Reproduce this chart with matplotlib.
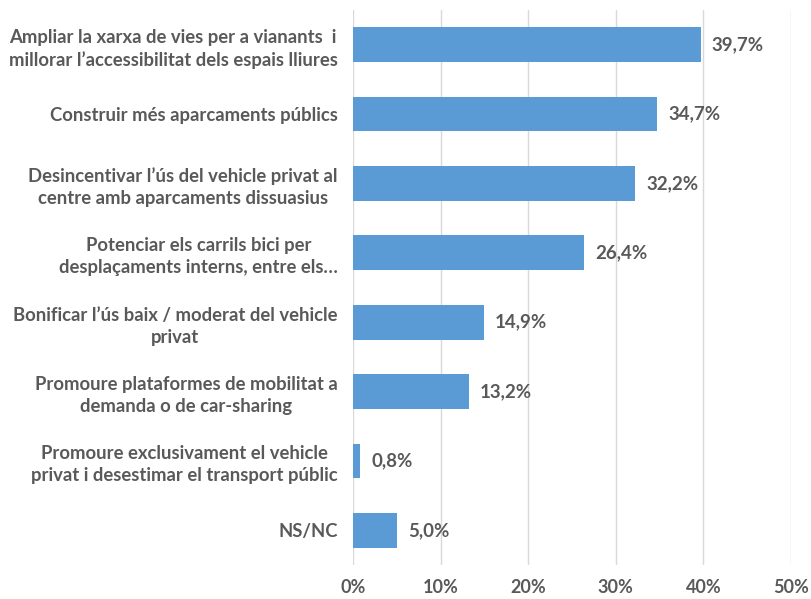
import matplotlib
matplotlib.use("Agg")
import matplotlib.pyplot as plt
from matplotlib.ticker import FuncFormatter

categories = [
    "Ampliar la xarxa de vies per a vianants  i\nmillorar l’accessibilitat dels espais lliures",
    "Construir més aparcaments públics",
    "Desincentivar l’ús del vehicle privat al\ncentre amb aparcaments dissuasius",
    "Potenciar els carrils bici per\ndesplaçaments interns, entre els…",
    "Bonificar l’ús baix / moderat del vehicle\nprivat",
    "Promoure plataformes de mobilitat a\ndemanda o de car-sharing",
    "Promoure exclusivament el vehicle\nprivat i desestimar el transport públic",
    "NS/NC",
]
values = [39.7, 34.7, 32.2, 26.4, 14.9, 13.2, 0.8, 5.0]
xticks = [0, 10, 20, 30, 40, 50]

plt.rcParams['font.family'] = ['Lato', 'DejaVu Sans']
text_color = '#595959'
bar_color = '#5B9BD5'

fig = plt.figure(figsize=(8.11, 5.99), dpi=100)
ax = fig.add_axes([353/811, 1 - 565/599, (791-353)/811, (565-10)/599])

y = list(range(len(categories)))
ax.barh(y, values, height=0.5, color=bar_color, zorder=3)
ax.set_ylim(len(categories) - 0.5, -0.5)
ax.set_xlim(0, 50)
ax.set_xticks(xticks)
ax.xaxis.set_major_formatter(FuncFormatter(lambda v, p: f"{int(v)}%"))
ax.grid(axis='x', color='#D9D9D9', linewidth=1, zorder=0)
for s in ax.spines.values():
    s.set_visible(False)
ax.tick_params(axis='both', length=0, colors=text_color)
ax.tick_params(axis='x', pad=10, labelsize=13)
ax.set_yticks(y)
ax.set_yticklabels(categories, fontweight='bold', multialignment='center',
                   fontsize=13.3, linespacing=1.35)
ax.tick_params(axis='y', pad=11)
for lbl in ax.get_xticklabels():
    lbl.set_fontweight('bold')

for yi, v in zip(y, values):
    ax.annotate(f"{v:.1f}%".replace('.', ','), xy=(v, yi), xytext=(8, 0),
                textcoords='offset points', va='center', ha='left',
                fontsize=13.5, fontweight='bold', color=text_color)

fig.savefig("out.png", dpi=100)
